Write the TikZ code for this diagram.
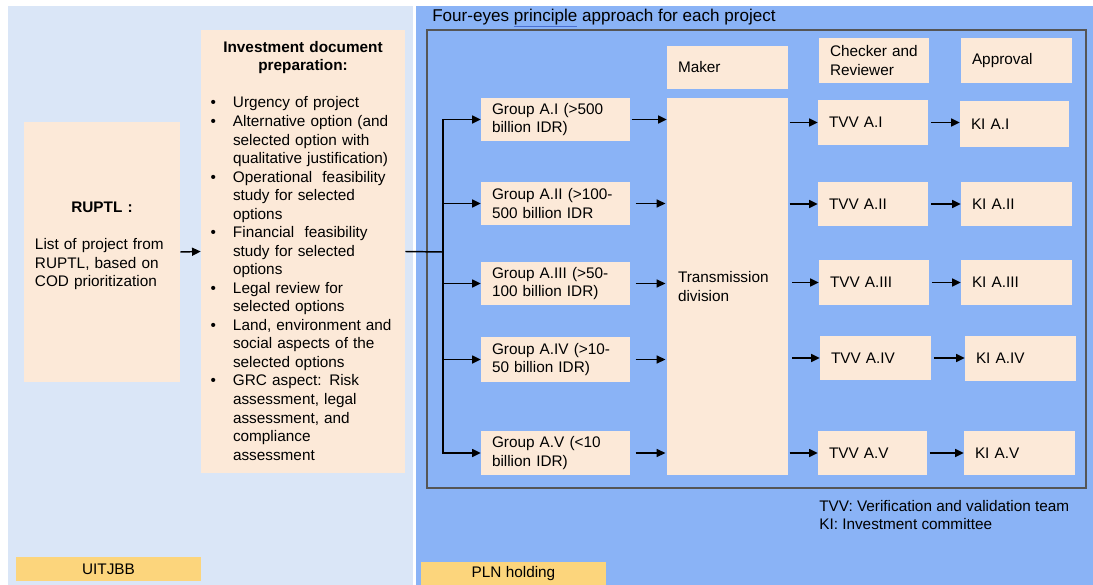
\documentclass[tikz,border=0pt]{standalone}
\usepackage{fontspec}
\setmainfont{Liberation Sans}
\usetikzlibrary{arrows.meta}

\definecolor{panelL}{HTML}{DAE6F7}
\definecolor{panelR}{HTML}{8AB3F6}
\definecolor{peach}{HTML}{FCE9D8}
\definecolor{tag}{HTML}{FCD57C}
\definecolor{frame}{HTML}{555555}
\definecolor{spell}{HTML}{4A6FD0}

\tikzset{
  % size of a box in pixel units: width, height
  sz/.code 2 args={%
    \pgfmathsetlengthmacro\pbW{#1*0.75pt}%
    \pgfmathsetlengthmacro\pbH{#2*0.75pt}%
    \pgfmathsetlengthmacro\pbT{(#1-22)*0.75pt}%
    \edef\pbKeys{minimum width=\pbW,minimum height=\pbH,text width=\pbT}%
    \expandafter\tikzset\expandafter{\pbKeys}},
  txt/.style={font=\fontsize{11.5}{13.9}\selectfont},
  box/.style={txt, fill=peach, draw=none, inner xsep=8.25pt, inner ysep=1pt,
    align=left, anchor=center},
  tagbox/.style={txt, fill=tag, draw=none, inner sep=0pt, align=center, anchor=center},
  arr/.style={line width=1.1pt, -{Triangle[length=6.5pt,width=6pt]}},
  wire/.style={line width=1.1pt},
}

\begin{document}
\begin{tikzpicture}[x=0.75pt,y=-0.75pt]
\useasboundingbox (0,0) rectangle (1093,585);
\fill[white] (0,0) rectangle (1093,585);

% the two organisational panels
\fill[panelL] (8,6) rectangle (413,585);
\fill[panelR] (415.5,6) rectangle (1093,585);

% four-eyes frame and its caption
\draw[frame, line width=1.1pt] (427,30) rectangle (1086,488);
\node[font=\fontsize{12.8}{15}\selectfont, anchor=west, inner sep=0pt] (cap) at (432,18)
  {Four-eyes {\color{spell}\underline{\textcolor{black}{principle}}} approach for each project};

% UITJBB side
\node[box, sz={156}{260}] (ruptl) at (102,252)
  {\makebox[\linewidth]{\textbf{RUPTL :}}\\[13.9pt]
   List of project from\\ RUPTL, based on\\ COD prioritization\\[-6.4pt] \strut};

\node[fill=peach, inner sep=0pt, minimum width=153pt, minimum height=332.25pt] (inv) at (303,251.5) {};
\node[txt, anchor=north, inner sep=0pt, text width=139.5pt, align=left] (invtext) at (303,41)
  {{\centering\bfseries Investment document\\ preparation:\par}
   \vspace{13.9pt}
   \def\itm{\hangindent=17.25pt\hangafter=1\noindent\makebox[17.25pt][l]{\hspace{0.5pt}•}}%
   \itm Urgency of project\par
   \itm Alternative option (and\newline selected option with\newline qualitative justification)\par
   \itm Operational\ \ feasibility\newline study for selected\newline options\par
   \itm Financial\ \ feasibility\newline study for selected\newline options\par
   \itm Legal review for\newline selected options\par
   \itm Land, environment and\newline social aspects of the\newline selected options\par
   \itm GRC aspect: Risk\newline assessment, legal\newline assessment, and\newline compliance\newline assessment\par};

\node[tagbox, minimum width=138.75pt, minimum height=18pt] (uit) at (108.5,569) {UITJBB};
\node[tagbox, minimum width=138.75pt, minimum height=17.25pt] (pln) at (513.5,573.5) {PLN holding};

% column headers
\node[box, sz={121}{43}] (maker) at (727.5,67.5) {Maker};
\node[box, sz={110}{45}] (chk) at (874,60.5) {Checker and\\ Reviewer};
\node[box, sz={111}{45}] (appr) at (1016.5,60.5) {Approval};

% project groups
\node[box, sz={149}{43}] (g1) at (555.5,119.5) {Group A.I (>500\\ billion IDR)};
\node[box, sz={149}{43}] (g2) at (555.5,203.5) {Group A.II (>100-\\ 500 billion IDR};
\node[box, sz={149}{43}] (g3) at (555.5,283.5) {Group A.III (>50-\\ 100 billion IDR)};
\node[box, sz={149}{45}] (g4) at (555.5,359.5) {Group A.IV (>10-\\ 50 billion IDR)};
\node[box, sz={149}{44}] (g5) at (555.5,453) {Group A.V (<10\\ billion IDR)};

% maker
\node[box, sz={121}{377}] (tr) at (727.5,286.5) {Transmission\\ division};

% checker and reviewer
\node[box, sz={110}{45}] (t1) at (873,122.5) {TVV A.I};
\node[box, sz={110}{44}] (t2) at (873,204) {TVV A.II};
\node[box, sz={110}{45}] (t3) at (874,282.5) {TVV A.III};
\node[box, sz={111}{44}] (t4) at (875.5,358) {TVV A.IV};
\node[box, sz={109}{44}] (t5) at (872.5,453) {TVV A.V};

% approval
\node[box, sz={109}{46}] (k1) at (1014.5,124) {KI A.I};
\node[box, sz={111}{44}] (k2) at (1016.5,204) {KI A.II};
\node[box, sz={111}{45}] (k3) at (1016.5,282.5) {KI A.III};
\node[box, sz={111}{45}] (k4) at (1020.5,358.5) {KI A.IV};
\node[box, sz={111}{44}] (k5) at (1019.5,453) {KI A.V};

% legend
\node[txt, anchor=west, inner sep=0pt, align=left] (legend) at (819,515)
  {TVV: Verification and validation team\\ KI: Investment committee};

% connectors
\draw[arr] (ruptl.east) -- (inv.west);
\coordinate (bus) at (443,252);
\draw[wire] (inv.east) -- (bus);
\foreach \g in {g1,g2,g3,g4,g5}
  \draw[arr] (bus) |- (\g.west);
\draw[arr, shorten <=1pt] (g1.east) -- (g1.east -| tr.west);
\foreach \g in {g2,g3,g4,g5}
  \draw[arr, shorten <=4pt, shorten >=1pt] (\g.east) -- (\g.east -| tr.west);
\foreach \t/\s in {t1/1pt,t2/1pt,t3/3pt,t4/3pt,t5/1pt}
  \draw[arr, shorten <=\s] (tr.east |- \t.west) -- (\t.west);
\foreach \t/\k in {t1/k1,t2/k2,t3/k3,t4/k4,t5/k5}
  \draw[arr, shorten <=2pt] (\t.east) -- (\t.east -| \k.west);
\end{tikzpicture}
\end{document}
